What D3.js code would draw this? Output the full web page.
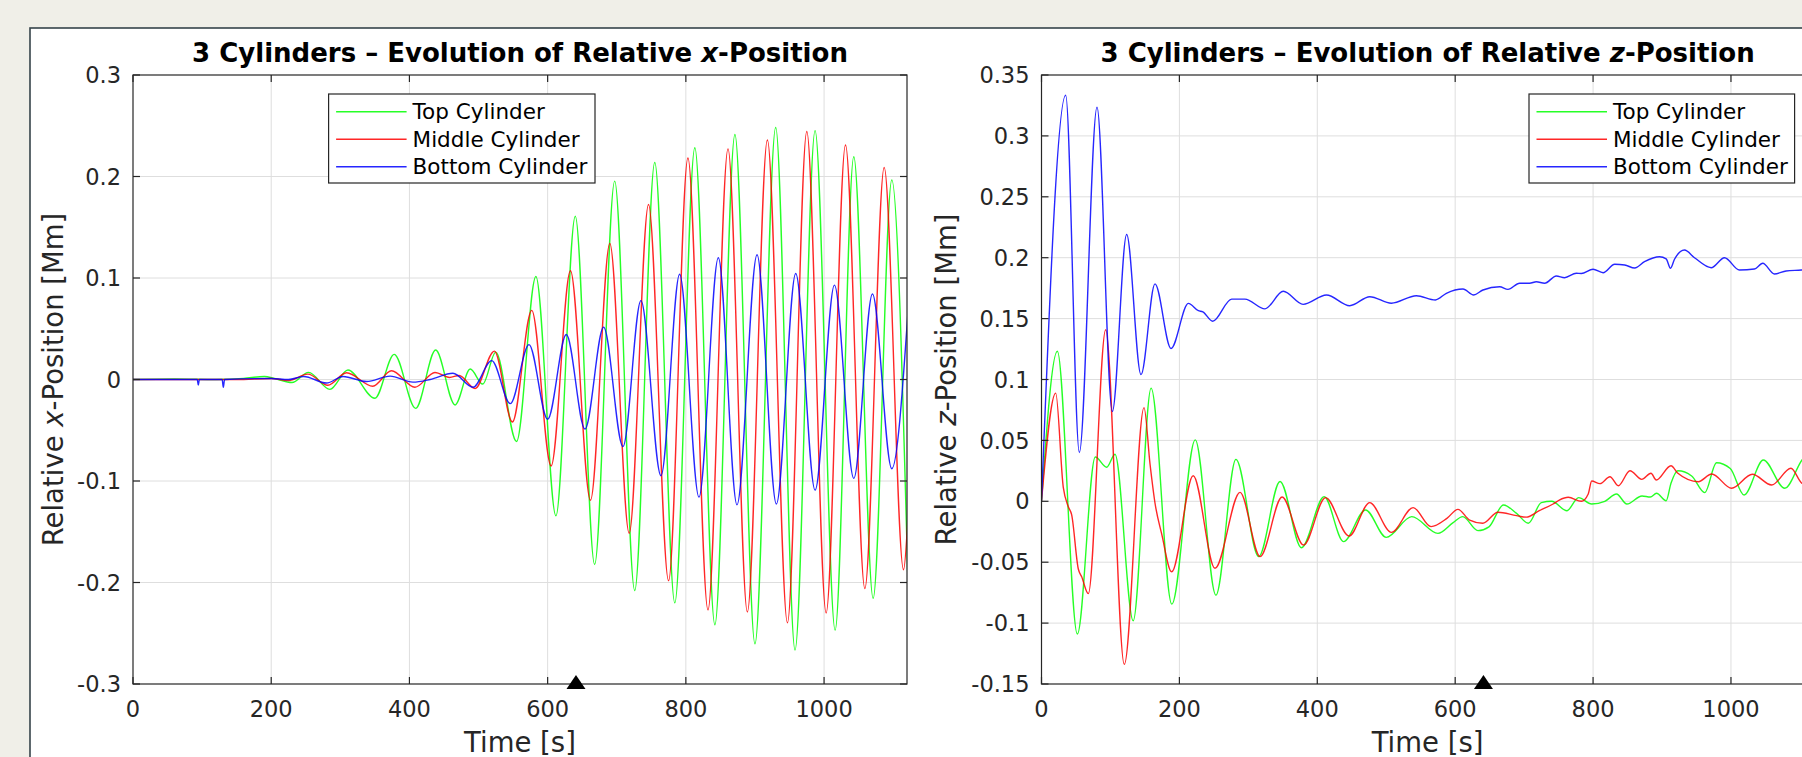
<!DOCTYPE html>
<html><head><meta charset="utf-8">
<script src="https://cdn.jsdelivr.net/npm/d3@7"></script>
<style>
body{margin:0;background:#f0efe8;overflow:hidden}
svg{display:block}
text{font-family:"DejaVu Sans",sans-serif}
</style>
</head><body>
<svg id="chart" width="1802" height="757"></svg>
<script>
// ---------- data ----------
const seriesNames = ["Top Cylinder", "Middle Cylinder", "Bottom Cylinder"];
const seriesColors = ["#00ff00", "#ff0000", "#0000ff"];

const timeDomain = [0, 1120];
const xTicks = [0, 200, 400, 600, 800, 1000];
const xTickLabels = ["0", "200", "400", "600", "800", "1000"];

const leftYDomain = [-0.3, 0.3];
const leftYTicks = [-0.3, -0.2, -0.1, 0, 0.1, 0.2, 0.3];
const leftYTickLabels = ["-0.3", "-0.2", "-0.1", "0", "0.1", "0.2", "0.3"];

const rightYDomain = [-0.15, 0.35];
const rightYTicks = [-0.15, -0.1, -0.05, 0, 0.05, 0.1, 0.15, 0.2, 0.25, 0.3, 0.35];
const rightYTickLabels = ["-0.15", "-0.1", "-0.05", "0", "0.05", "0.1", "0.15", "0.2", "0.25", "0.3", "0.35"];

const markerTimes = [641];

// relative x-position [Mm], [time s, value]
const xTop = [[0,0],[60,0.0005],[120,0],[160,0.001],[190,0.003],[205,0.001],[230,-0.003],[254,0.007],[285,-0.0097],[311,0.0094],[350,-0.0185],[378,0.0248],[409,-0.0284],[438,0.029],[466,-0.0251],[488,0.0103],[506,-0.0045],[525,0.027],[555,-0.0611],[583,0.1015],[612,-0.1343],[640,0.1609],[668,-0.1822],[697,0.1954],[726,-0.2079],[755,0.2138],[784,-0.2201],[813,0.2283],[842,-0.2416],[871,0.2414],[900,-0.2604],[930,0.2483],[958,-0.2665],[987,0.2452],[1016,-0.2469],[1043,0.2195],[1071,-0.2155],[1098,0.1966],[1121,-0.19]];
const xMiddle = [[0,0],[150,0],[200,0.001],[225,-0.001],[253,0.0053],[282,-0.0057],[309,0.0066],[347,-0.0066],[374,0.0086],[408,-0.0076],[437,0.0069],[458,0.002],[472,0.004],[495,-0.0088],[523,0.028],[549,-0.0419],[577,0.0681],[605,-0.0852],[633,0.1072],[662,-0.1189],[690,0.1341],[718,-0.1515],[746,0.1724],[775,-0.1982],[803,0.2183],[832,-0.227],[861,0.2272],[889,-0.229],[918,0.236],[947,-0.2397],[975,0.2444],[1003,-0.23],[1031,0.231],[1059,-0.2059],[1087,0.2088],[1115,-0.1875],[1121,-0.14]];
const xBottom = [[0,0],[93,0],[94.5,-0.0055],[96,0],[129,0],[130.7,-0.0077],[132.5,0],[200,0.001],[225,0],[247,0.003],[280,-0.0035],[304,0.003],[338,-0.002],[372,0.0033],[405,-0.0026],[430,0],[463,0.0061],[492,-0.0077],[519,0.0186],[546,-0.0238],[573,0.0344],[600,-0.0392],[627,0.0443],[654,-0.0488],[681,0.0516],[709,-0.0661],[735,0.0777],[764,-0.0948],[791,0.1037],[819,-0.1159],[847,0.1199],[874,-0.1235],[903,0.1229],[931,-0.1227],[959,0.1045],[987,-0.109],[1015,0.093],[1043,-0.0974],[1070,0.0842],[1098,-0.0879],[1121,0.0624]];

// relative z-position [Mm], [time s, value]
const zTop = [[0,0],[23,0.1232],[52,-0.109],[78,0.0364],[94.5,0.028],[106.6,0.0386],[133,-0.0981],[159,0.0929],[189,-0.0844],[223,0.0504],[253,-0.077],[282,0.0344],[315,-0.0454],[346,0.0163],[377,-0.0381],[410,0.0038],[438,-0.0331],[470,-0.0071],[500,-0.0296],[537,-0.0126],[575,-0.0263],[597,-0.0175],[611,-0.0126],[633,-0.0241],[649,-0.021],[670,-0.003],[689,-0.0099],[706,-0.018],[725,-0.0011],[740,0],[762,-0.0077],[779,0.003],[798,-0.0022],[817,0],[834,0.006],[849,-0.0022],[871,0.0044],[883,0.0035],[892,0.0066],[906,0.0005],[913,0.0148],[923,0.0251],[943,0.0208],[962,0.0071],[979,0.0317],[999,0.027],[1019,0.0052],[1047,0.0339],[1078,0.0107],[1103,0.0339],[1121,0.045]];
const zMiddle = [[0,0],[20.6,0.0888],[31.6,0.0114],[38.9,-0.0045],[43.7,-0.011],[53.4,-0.0556],[58.3,-0.062],[67.9,-0.0758],[93.1,0.1408],[120.1,-0.1339],[148.7,0.0769],[157.4,0.0306],[164.6,-0.0014],[174.3,-0.0268],[188.8,-0.0579],[220,0.021],[251.6,-0.055],[288,0.0073],[317,-0.0454],[349,0.0035],[380,-0.0359],[412,0.003],[446,-0.0285],[476,-0.0011],[507.5,-0.0255],[539,-0.0052],[565,-0.0208],[588,-0.014],[604,-0.0066],[621,-0.0154],[640,-0.018],[662,-0.009],[689,-0.0118],[703,-0.013],[722,-0.0077],[742,-0.0022],[751,0.001],[764,0.0033],[783,0],[793,0.006],[798,0.0167],[810,0.0145],[824.5,0.0202],[836.6,0.0128],[853.5,0.0251],[870.6,0.018],[884,0.023],[891.6,0.0175],[913,0.0292],[923,0.023],[952.6,0.0161],[972,0.0224],[1001,0.0107],[1031,0.0222],[1059,0.0134],[1087,0.0271],[1103,0.0148],[1121,0.012]];
const zBottom = [[0,0],[35.1,0.3334],[54.9,0.0401],[80.5,0.3235],[102.7,0.0737],[123.5,0.219],[144.3,0.104],[164.6,0.1785],[187.8,0.1255],[213,0.1625],[227.5,0.1565],[234,0.1555],[248.3,0.1478],[275.8,0.166],[295,0.166],[324.1,0.158],[350.7,0.1724],[379.4,0.1617],[413.3,0.1694],[447.1,0.1606],[476.1,0.168],[507.5,0.1626],[543.7,0.1688],[571.3,0.1653],[587.2,0.1708],[611.3,0.1743],[626.8,0.1694],[640.3,0.1735],[664.5,0.1762],[676.5,0.174],[693.5,0.179],[707.9,0.179],[717.7,0.1803],[729.7,0.179],[746.7,0.185],[758.7,0.1836],[775.7,0.1872],[783,0.187],[800,0.1905],[814.5,0.1877],[831.4,0.1946],[845.9,0.194],[860.4,0.1915],[874.6,0.1967],[896.4,0.2008],[906,0.199],[912.3,0.1913],[918.1,0.1987],[932.6,0.2063],[947.1,0.2],[971.3,0.1918],[990.6,0.2],[1012.3,0.1899],[1034,0.1907],[1046.1,0.1954],[1063,0.1866],[1080,0.1891],[1102,0.1899],[1121,0.191]];

// ---------- drawing ----------
const svg = d3.select("#chart");
const axisColor = "#262626";
const gridColor = "#dedede";

// outer white figure panel
svg.append("rect").attr("x", 30).attr("y", 28).attr("width", 1900).attr("height", 900)
  .attr("fill", "#ffffff").attr("stroke", "#36444a").attr("stroke-width", 1.6);

const panels = [
  { id: "L", box: [133, 907, 75, 684], yDomain: leftYDomain, yTicks: leftYTicks, yLabels: leftYTickLabels,
    series: [xTop, xMiddle, xBottom], axisVar: "x", ylabX: 63,
    legend: { x: 328.6, y: 94, w: 266.4, h: 89 } },
  { id: "R", box: [1041.5, 1813.7, 75, 684], yDomain: rightYDomain, yTicks: rightYTicks, yLabels: rightYTickLabels,
    series: [zTop, zMiddle, zBottom], axisVar: "z", ylabX: 956,
    legend: { x: 1529, y: 94, w: 265.6, h: 89 } }
];

panels.forEach(p => {
  const [x0, x1, y0, y1] = p.box;
  const xs = d3.scaleLinear().domain(timeDomain).range([x0, x1]);
  const ys = d3.scaleLinear().domain(p.yDomain).range([y1, y0]);
  const g = svg.append("g");

  // grid
  g.append("g").selectAll("line").data(xTicks.filter(t => t > timeDomain[0])).join("line")
    .attr("x1", d => xs(d)).attr("x2", d => xs(d)).attr("y1", y0).attr("y2", y1)
    .attr("stroke", gridColor).attr("stroke-width", 1);
  g.append("g").selectAll("line").data(p.yTicks.filter(v => v > p.yDomain[0] && v < p.yDomain[1])).join("line")
    .attr("x1", x0).attr("x2", x1).attr("y1", d => ys(d)).attr("y2", d => ys(d))
    .attr("stroke", gridColor).attr("stroke-width", 1);

  // clip + lines
  svg.append("clipPath").attr("id", "clip" + p.id).append("rect")
    .attr("x", x0).attr("y", y0).attr("width", x1 - x0).attr("height", y1 - y0);
  const line = d3.line().x(d => xs(d[0])).y(d => ys(d[1])).curve(d3.curveMonotoneX);
  const lg = g.append("g").attr("clip-path", `url(#clip${p.id})`);
  p.series.forEach((s, i) => {
    lg.append("path").attr("d", line(s)).attr("fill", "none")
      .attr("stroke", seriesColors[i]).attr("stroke-width", 1.4).attr("stroke-opacity", 0.85)
      .attr("stroke-linejoin", "round");
  });

  // axes box
  g.append("rect").attr("x", x0).attr("y", y0).attr("width", x1 - x0).attr("height", y1 - y0)
    .attr("fill", "none").attr("stroke", axisColor).attr("stroke-width", 1.2);

  // ticks (inward, all four sides)
  const tl = 7;
  const tk = g.append("g").attr("stroke", axisColor).attr("stroke-width", 1.2);
  xTicks.forEach(t => {
    tk.append("line").attr("x1", xs(t)).attr("x2", xs(t)).attr("y1", y1).attr("y2", y1 - tl);
    tk.append("line").attr("x1", xs(t)).attr("x2", xs(t)).attr("y1", y0).attr("y2", y0 + tl);
  });
  p.yTicks.forEach(v => {
    tk.append("line").attr("x1", x0).attr("x2", x0 + tl).attr("y1", ys(v)).attr("y2", ys(v));
    tk.append("line").attr("x1", x1).attr("x2", x1 - tl).attr("y1", ys(v)).attr("y2", ys(v));
  });

  // tick labels
  g.append("g").selectAll("text").data(xTicks).join("text")
    .attr("x", d => xs(d)).attr("y", y1 + 33).attr("text-anchor", "middle")
    .attr("font-size", 22.5).attr("fill", axisColor).text((d, i) => xTickLabels[i]);
  g.append("g").selectAll("text").data(p.yTicks).join("text")
    .attr("x", x0 - 12).attr("y", d => ys(d)).attr("dy", "0.36em").attr("text-anchor", "end")
    .attr("font-size", 22.5).attr("fill", axisColor).text((d, i) => p.yLabels[i]);

  // triangle marker on time axis
  g.append("g").selectAll("path").data(markerTimes).join("path")
    .attr("transform", d => `translate(${xs(d)},${ys(p.yDomain[0])})`)
    .attr("d", "M0,-9L9.5,5L-9.5,5Z").attr("fill", "#000");

  // title
  const cx = (x0 + x1) / 2;
  const title = g.append("text").attr("x", cx).attr("y", 62).attr("text-anchor", "middle")
    .attr("font-size", 26).attr("font-weight", "bold").attr("fill", "#000");
  title.append("tspan").text("3 Cylinders \u2013 Evolution of Relative ");
  title.append("tspan").attr("font-style", "italic").text(p.axisVar);
  title.append("tspan").text("-Position");

  // axis labels
  g.append("text").attr("x", cx).attr("y", 752).attr("text-anchor", "middle")
    .attr("font-size", 27.5).attr("fill", axisColor).text("Time [s]");
  const yl = g.append("text").attr("transform", `translate(${p.ylabX},${(y0 + y1) / 2}) rotate(-90)`)
    .attr("text-anchor", "middle").attr("font-size", 27.5).attr("fill", axisColor);
  yl.append("tspan").text("Relative ");
  yl.append("tspan").attr("font-style", "italic").text(p.axisVar);
  yl.append("tspan").text("-Position [Mm]");

  // legend
  const L = p.legend;
  const leg = g.append("g");
  leg.append("rect").attr("x", L.x).attr("y", L.y).attr("width", L.w).attr("height", L.h)
    .attr("fill", "#fff").attr("stroke", axisColor).attr("stroke-width", 1.2);
  const rowY = [17.7, 45.3, 72.7];
  seriesNames.forEach((n, i) => {
    leg.append("line").attr("x1", L.x + 7.5).attr("x2", L.x + 78).attr("y1", L.y + rowY[i]).attr("y2", L.y + rowY[i])
      .attr("stroke", seriesColors[i]).attr("stroke-width", 1.4).attr("stroke-opacity", 0.85);
    leg.append("text").attr("x", L.x + 84).attr("y", L.y + rowY[i]).attr("dy", "0.36em")
      .attr("font-size", 21.5).attr("fill", "#000").text(n);
  });
});
</script>
</body></html>
